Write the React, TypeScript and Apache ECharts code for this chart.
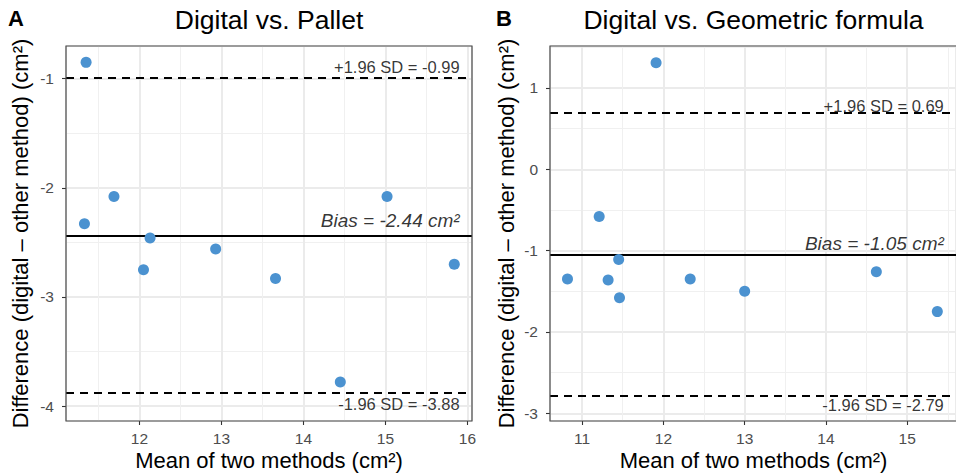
import React, { useEffect, useRef } from "react";
import * as echarts from "echarts";

// Panel A: Digital vs. Pallet
const meanA = [11.35, 11.33, 11.69, 12.13, 12.05, 12.93, 13.66, 14.45, 15.02, 15.84];
const diffA = [-0.85, -2.33, -2.08, -2.46, -2.75, -2.56, -2.83, -3.78, -2.08, -2.70];
const limitsA = { bias: -2.44, upper: -0.99, lower: -3.88 };
const rangeA = { xMin: 11.105, xMax: 16.056, yMin: -4.137, yMax: -0.70 };

// Panel B: Digital vs. Geometric formula
const meanB = [11.91, 11.21, 10.82, 11.32, 11.45, 11.46, 12.33, 13.0, 14.62, 15.37];
const diffB = [1.31, -0.58, -1.35, -1.36, -1.11, -1.58, -1.35, -1.5, -1.26, -1.75];
const limitsB = { bias: -1.05, upper: 0.69, lower: -2.79 };
const rangeB = { xMin: 10.605, xMax: 15.6, yMin: -3.095, yMax: 1.516 };

const titles = ["Digital vs. Pallet", "Digital vs. Geometric formula"];
const panelTags = ["A", "B"];
const xTitle = "Mean of two methods (cm²)";
const yTitle = "Difference (digital \u2013 other method) (cm²)";

const FONT = "'Liberation Sans', Arial, Helvetica, sans-serif";
const POINT = "#4B92D0";

const fmt = (v: number) => v.toFixed(2);

export default function App() {
  const ref = useRef<HTMLDivElement>(null);
  useEffect(() => {
    if (!ref.current) return;
    const chart = echarts.init(ref.current, undefined, { renderer: "svg" });

    const grids = [
      { left: 66, top: 46, width: 406, height: 375 },
      { left: 550, top: 46, width: 407, height: 375 },
    ];
    const ranges = [rangeA, rangeB];
    const means = [meanA, meanB];
    const diffs = [diffA, diffB];
    const limits = [limitsA, limitsB];

    const axisCommon = {
      type: "value" as const,
      minInterval: 1,
      maxInterval: 1,
      axisLine: { show: false, onZero: false },
      axisTick: { show: true, length: 4, lineStyle: { color: "#333333", width: 1.1 } },
      axisLabel: {
        color: "#4D4D4D",
        fontSize: 15.5,
        fontFamily: FONT,
        showMinLabel: false,
        showMaxLabel: false,
      },
      splitLine: { show: true, lineStyle: { color: "#EBEBEB", width: 2 } },
      minorTick: { show: false, splitNumber: 2 },
      minorSplitLine: { show: true, lineStyle: { color: "#F0F0F0", width: 1 } },
    };

    const xAxis = ranges.map((r, i) => ({
      ...axisCommon,
      gridIndex: i,
      min: r.xMin,
      max: r.xMax,
      axisLabel: { ...axisCommon.axisLabel, margin: 9 },
    }));
    const yAxis = ranges.map((r, i) => ({
      ...axisCommon,
      gridIndex: i,
      min: r.yMin,
      max: r.yMax,
      axisLabel: { ...axisCommon.axisLabel, margin: 12 },
    }));

    const series: any[] = [];
    for (let i = 0; i < 2; i++) {
      const L = limits[i];
      const r = ranges[i];
      series.push({
        type: "scatter",
        xAxisIndex: i,
        yAxisIndex: i,
        symbolSize: 11,
        itemStyle: { color: POINT, opacity: 1 },
        data: means[i].map((m, k) => [m, diffs[i][k]]),
        z: 5,
        markLine: {
          silent: true,
          symbol: "none",
          label: { show: false },
          animation: false,
          data: [
            { yAxis: L.bias, lineStyle: { color: "#000", type: "solid", width: 2.2 } },
            { yAxis: L.upper, lineStyle: { color: "#000", type: [8, 6], width: 1.8 } },
            { yAxis: L.lower, lineStyle: { color: "#000", type: [8, 6], width: 1.8 } },
          ],
        },
      });
      const tx = r.xMax - 0.15;
      series.push({
        type: "scatter",
        xAxisIndex: i,
        yAxisIndex: i,
        symbolSize: 0.01,
        itemStyle: { color: "rgba(0,0,0,0)" },
        silent: true,
        z: 6,
        label: {
          show: true,
          position: "left",
          distance: 0,
          color: "#000",
          fontFamily: FONT,
          fontSize: 16.5,
          formatter: (p: any) => p.name,
        },
        data: [
          { name: `+1.96 SD = ${fmt(L.upper)}`, value: [tx, L.upper + 0.093] },
          {
            name: `Bias = ${fmt(L.bias)} cm²`,
            value: [tx, L.bias + 0.14],
            label: { fontStyle: "italic", fontSize: 19 },
          },
          { name: `-1.96 SD = ${fmt(L.lower)}`, value: [tx, L.lower - 0.103] },
        ],
      });
    }

    const graphic: any[] = [];
    grids.forEach((g, i) => {
      const cx = g.left + g.width / 2;
      const cy = g.top + g.height / 2;
      graphic.push({
        type: "rect",
        z: 100,
        silent: true,
        shape: { x: g.left, y: g.top, width: g.width, height: g.height },
        style: { fill: "none", stroke: "#4D4D4D", lineWidth: 1.2 },
      });
      graphic.push({
        type: "text",
        x: cx,
        y: 20,
        style: { text: titles[i], font: `26.5px ${FONT}`, fill: "#000", textAlign: "center", textVerticalAlign: "middle" },
      });
      graphic.push({
        type: "text",
        x: i === 0 ? 16 : 504,
        y: 18,
        style: { text: panelTags[i], font: `bold 22px ${FONT}`, fill: "#000", textAlign: "center", textVerticalAlign: "middle" },
      });
      graphic.push({
        type: "text",
        x: cx,
        y: 460,
        style: { text: xTitle, font: `22px ${FONT}`, fill: "#000", textAlign: "center", textVerticalAlign: "middle" },
      });
      graphic.push({
        type: "text",
        x: i === 0 ? 20 : 506,
        y: cy,
        rotation: Math.PI / 2,
        style: { text: yTitle, font: `22px ${FONT}`, fill: "#000", textAlign: "center", textVerticalAlign: "middle" },
      });
    });

    chart.setOption({
      animation: false,
      backgroundColor: "#fff",
      grid: grids.map((g) => ({ ...g })),
      xAxis,
      yAxis,
      series,
      graphic,
    });
    return () => chart.dispose();
  }, []);
  return (
    <div
      ref={ref}
      style={{ position: "fixed", left: 0, top: 0, width: 956, height: 473, background: "#fff" }}
    />
  );
}
